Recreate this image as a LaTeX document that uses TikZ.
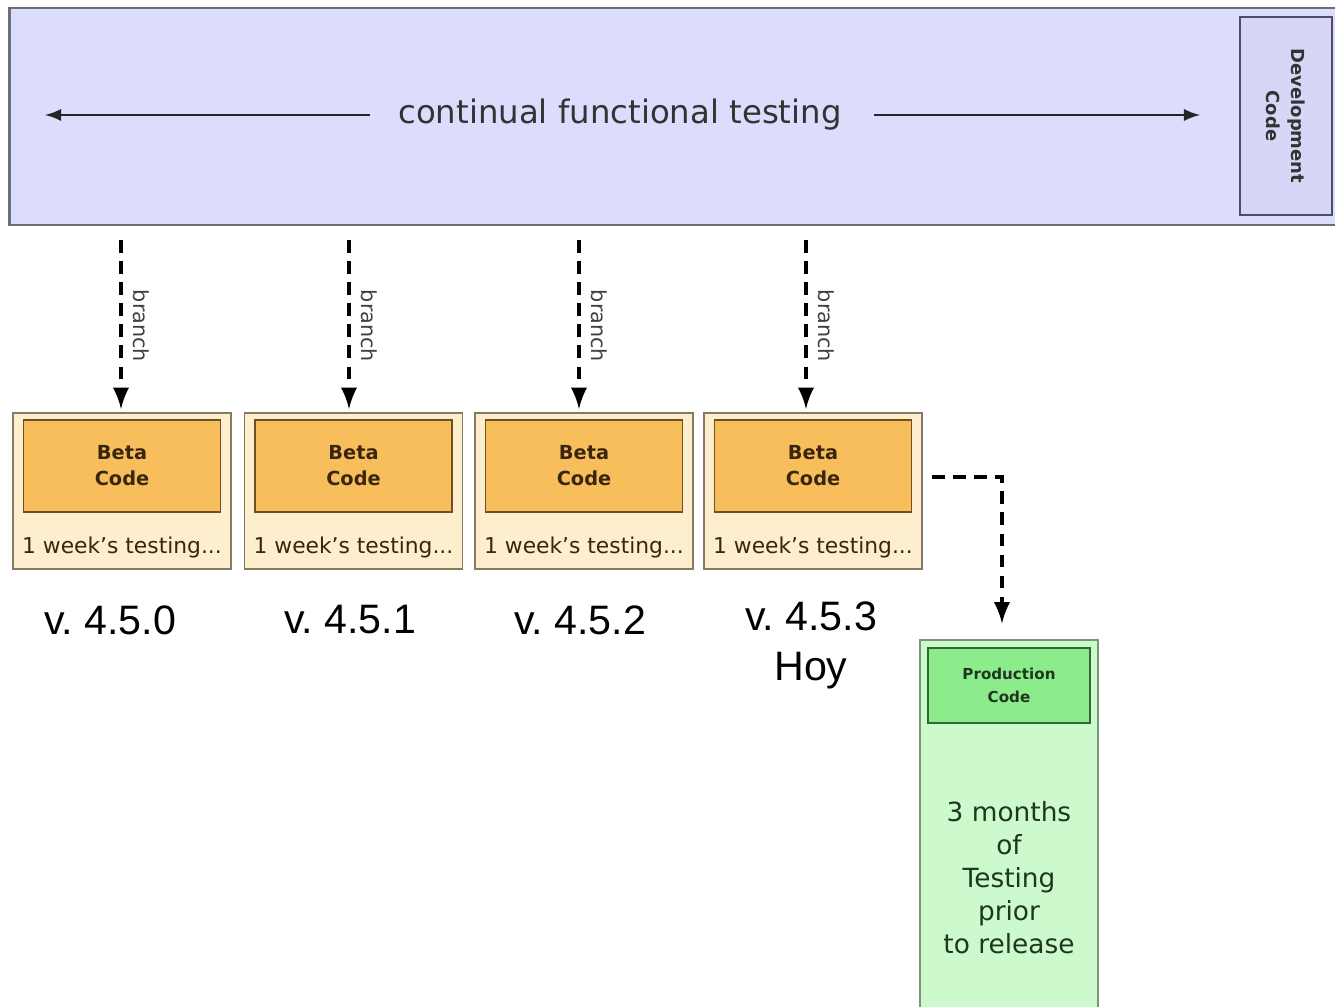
\documentclass[tikz,border=0pt]{standalone}
\usepackage{fontspec}
\setmainfont{DejaVu Sans}
\newfontfamily\arialfont{Liberation Sans}
\definecolor{bandfill}{RGB}{220,220,252}
\definecolor{bandline}{RGB}{110,110,122}
\definecolor{devfill}{RGB}{214,214,246}
\definecolor{devline}{RGB}{78,78,108}
\definecolor{betaout}{RGB}{253,238,206}
\definecolor{betaoutline}{RGB}{135,122,100}
\definecolor{betain}{RGB}{248,190,92}
\definecolor{betainline}{RGB}{115,78,32}
\definecolor{betatext}{RGB}{58,38,12}
\definecolor{prodout}{RGB}{204,250,204}
\definecolor{prodoutline}{RGB}{120,150,120}
\definecolor{prodin}{RGB}{140,236,140}
\definecolor{prodinline}{RGB}{50,105,50}
\definecolor{prodtext}{RGB}{30,55,30}
\tikzset{
  betaouter/.style={draw=betaoutline,fill=betaout,line width=0.5pt,
    minimum width=2.18cm,minimum height=1.56cm,inner sep=0},
  betainner/.style={draw=betainline,fill=betain,line width=0.5pt,
    minimum width=1.97cm,minimum height=0.92cm,inner sep=0,align=center,
    text=betatext,font=\fontsize{5.5}{7.4}\selectfont\bfseries},
  weeklbl/.style={text=betatext,inner sep=0,font=\fontsize{6.2}{7.4}\selectfont},
  verlbl/.style={inner sep=0,align=center,font=\arialfont\fontsize{11.7}{14.2}\selectfont},
  branchln/.style={line width=1.1pt,dash pattern=on 3.6pt off 2.4pt,-latex},
  branchlbl/.style={midway,rotate=-90,anchor=south,inner sep=3pt,
    text=black!75,font=\fontsize{5.9}{7}\selectfont},
}
\begin{document}
\frenchspacing
\begin{tikzpicture}[x=0.01cm,y=-0.01cm]
  \useasboundingbox (0,0) rectangle (1335,1007);
  % top band
  \node[draw=bandline,fill=bandfill,line width=0.7pt,inner sep=0,
        minimum width=13.32cm,minimum height=2.17cm] (band) at (676,116.5) {};
  \node[draw=devline,fill=devfill,line width=0.7pt,inner sep=0,
        minimum width=0.92cm,minimum height=1.98cm] (dev) at (1286,116) {};
  \node[rotate=-90,align=center,inner sep=0,text=black!80,
        font=\fontsize{5.1}{7.1}\selectfont\bfseries] (devlbl) at (dev) {Development\\Code};
  \node[inner sep=0,text=black!80,font=\fontsize{9.2}{11}\selectfont] (flow) at (620,115)
    {continual functional testing};
  \coordinate (leftend) at (45,115);
  \coordinate (rightend) at (1200,115);
  \draw[line width=0.6pt,black!85,-latex] ([xshift=-0.28cm]flow.west) -- (leftend);
  \draw[line width=0.6pt,black!85,-latex] ([xshift=0.32cm]flow.east) -- (rightend);

  % beta boxes
  \node[betaouter] (beta1) at (122,491) {};
  \node[betainner] (beta1in) at (122,466) {Beta\\Code};
  \node[weeklbl] (week1) at (122,547) {1 week’s testing...};
  \node[betaouter] (beta2) at (353.5,491) {};
  \node[betainner] (beta2in) at (353.5,466) {Beta\\Code};
  \node[weeklbl] (week2) at (353.5,547) {1 week’s testing...};
  \node[betaouter] (beta3) at (584,491) {};
  \node[betainner] (beta3in) at (584,466) {Beta\\Code};
  \node[weeklbl] (week3) at (584,547) {1 week’s testing...};
  \node[betaouter] (beta4) at (813,491) {};
  \node[betainner] (beta4in) at (813,466) {Beta\\Code};
  \node[weeklbl] (week4) at (813,547) {1 week’s testing...};

  % branches
  \coordinate (br1) at (121,240);
  \coordinate (br2) at (349,240);
  \coordinate (br3) at (579,240);
  \coordinate (br4) at (806,240);
  \draw[branchln,shorten >=0.03cm] (br1) -- (br1 |- beta1.north) node[branchlbl]{branch};
  \draw[branchln,shorten >=0.03cm] (br2) -- (br2 |- beta2.north) node[branchlbl]{branch};
  \draw[branchln,shorten >=0.03cm] (br3) -- (br3 |- beta3.north) node[branchlbl]{branch};
  \draw[branchln,shorten >=0.03cm] (br4) -- (br4 |- beta4.north) node[branchlbl]{branch};

  % versions
  \node[verlbl] (v0) at (110,620) {v. 4.5.0};
  \node[verlbl] (v1) at (350,620) {v. 4.5.1};
  \node[verlbl] (v2) at (580,620) {v. 4.5.2};
  \node[verlbl] (v3) at (811,645) {v. 4.5.3\\Hoy};

  % production
  \node[draw=prodoutline,fill=prodout,line width=0.7pt,inner sep=0,
        minimum width=1.78cm,minimum height=3.8cm] (prod) at (1009,830) {};
  \node[draw=prodinline,fill=prodin,line width=0.6pt,inner sep=0,align=center,
        minimum width=1.62cm,minimum height=0.75cm,text=prodtext,
        font=\fontsize{4.3}{6.5}\selectfont\bfseries] (prodin) at (1009,685.5)
    {Production\\Code};
  \node[align=center,inner sep=0,text=prodtext,font=\fontsize{7.5}{9.4}\selectfont]
    (months) at (1009,878) {3 months\\of\\Testing\\prior\\to release};
  \coordinate (turn) at (1002,477);
  \draw[branchln] ([shift={(9,-14)}]beta4.east) -- (turn) -- (turn |- prod.north)
    [shorten >=0.15cm];
\end{tikzpicture}
\end{document}
